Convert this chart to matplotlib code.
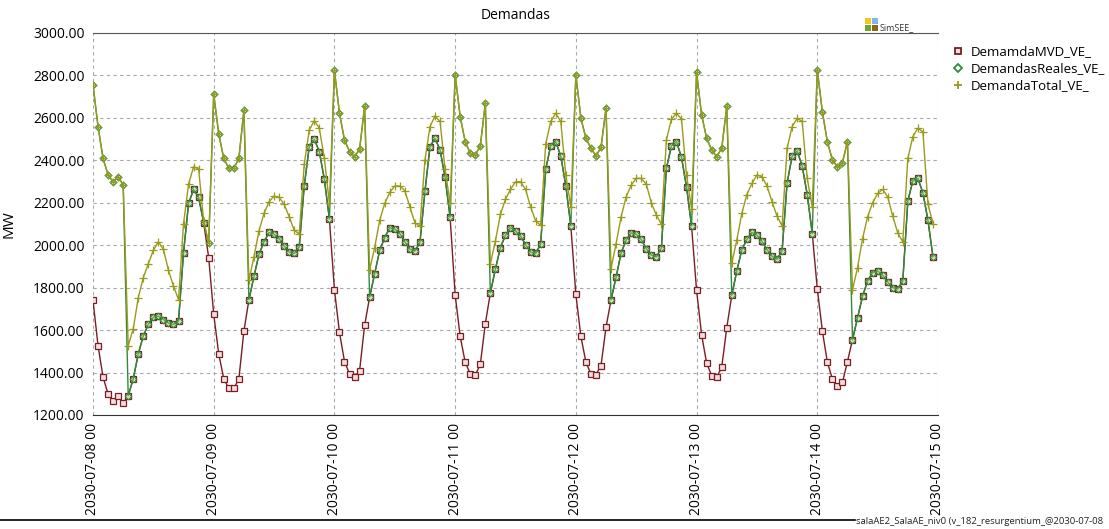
import numpy as np
import matplotlib
matplotlib.use("Agg")
import matplotlib.pyplot as plt
from matplotlib.patches import Rectangle
from matplotlib.lines import Line2D

plt.rcParams['font.family'] = ['Open Sans', 'DejaVu Sans']

# hourly demand, 2030-07-08 00 .. 2030-07-14 23 (one row per day)
mvd = [
    1740, 1527, 1378, 1299, 1268, 1288, 1255, 1291, 1370, 1488, 1573, 1627, 1661, 1666, 1650, 1633, 1627, 1642, 1965, 2197, 2263, 2225, 2107, 1942,
    1674, 1488, 1370, 1326, 1326, 1370, 1595, 1743, 1853, 1957, 2016, 2060, 2052, 2031, 1997, 1968, 1961, 1992, 2280, 2465, 2499, 2441, 2310, 2124,
    1790, 1590, 1452, 1394, 1378, 1409, 1622, 1756, 1866, 1976, 2036, 2082, 2077, 2055, 2016, 1981, 1973, 2013, 2255, 2465, 2504, 2449, 2320, 2131,
    1767, 1570, 1449, 1394, 1389, 1438, 1630, 1775, 1887, 1989, 2047, 2082, 2068, 2044, 2003, 1968, 1961, 2005, 2357, 2469, 2488, 2420, 2280, 2091,
    1768, 1570, 1449, 1394, 1390, 1433, 1614, 1743, 1850, 1964, 2024, 2058, 2052, 2027, 1984, 1953, 1945, 1987, 2362, 2468, 2488, 2414, 2276, 2091,
    1787, 1579, 1444, 1386, 1378, 1425, 1611, 1764, 1879, 1979, 2027, 2060, 2047, 2019, 1979, 1948, 1934, 1973, 2294, 2420, 2444, 2373, 2239, 2055,
    1795, 1598, 1449, 1370, 1338, 1354, 1452, 1554, 1658, 1760, 1831, 1871, 1879, 1858, 1827, 1800, 1794, 1831, 2208, 2304, 2315, 2247, 2118, 1945,
]

reales = [
    2756, 2559, 2409, 2331, 2299, 2323, 2284, 1291, 1370, 1488, 1573, 1627, 1661, 1666, 1650, 1633, 1627, 1642, 1965, 2197, 2263, 2225, 2107, 2010,
    2712, 2524, 2409, 2362, 2362, 2409, 2635, 1743, 1853, 1957, 2016, 2060, 2052, 2031, 1997, 1968, 1961, 1992, 2280, 2465, 2499, 2441, 2310, 2124,
    2824, 2622, 2496, 2441, 2417, 2452, 2654, 1756, 1866, 1976, 2036, 2082, 2077, 2055, 2016, 1981, 1973, 2013, 2255, 2465, 2504, 2449, 2320, 2131,
    2803, 2606, 2488, 2433, 2425, 2468, 2669, 1775, 1887, 1989, 2047, 2082, 2068, 2044, 2003, 1968, 1961, 2005, 2357, 2469, 2488, 2420, 2280, 2091,
    2803, 2598, 2504, 2457, 2420, 2461, 2646, 1743, 1850, 1964, 2024, 2058, 2052, 2027, 1984, 1953, 1945, 1987, 2362, 2468, 2488, 2414, 2276, 2091,
    2814, 2614, 2504, 2449, 2417, 2457, 2654, 1764, 1879, 1979, 2027, 2060, 2047, 2019, 1979, 1948, 1934, 1973, 2294, 2420, 2444, 2373, 2239, 2055,
    2827, 2630, 2488, 2402, 2370, 2389, 2488, 1554, 1658, 1760, 1831, 1871, 1879, 1858, 1827, 1800, 1794, 1831, 2208, 2304, 2315, 2247, 2118, 1945,
]

total = [
    2756, 2559, 2409, 2331, 2299, 2323, 2284, 1527, 1606, 1753, 1847, 1913, 1976, 2016, 1981, 1882, 1808, 1743, 2102, 2288, 2370, 2359, 2115, 2010,
    2712, 2524, 2409, 2362, 2362, 2409, 2635, 1835, 1945, 2068, 2150, 2205, 2231, 2225, 2194, 2134, 2071, 2052, 2383, 2543, 2587, 2551, 2409, 2197,
    2824, 2622, 2496, 2441, 2417, 2452, 2654, 1885, 1989, 2118, 2197, 2249, 2279, 2279, 2257, 2181, 2105, 2090, 2402, 2559, 2609, 2583, 2357, 2197,
    2803, 2606, 2488, 2433, 2425, 2468, 2669, 1913, 2019, 2146, 2216, 2263, 2299, 2299, 2263, 2181, 2115, 2094, 2476, 2583, 2622, 2583, 2331, 2181,
    2803, 2598, 2504, 2457, 2420, 2461, 2646, 1890, 2008, 2134, 2228, 2283, 2315, 2315, 2288, 2200, 2142, 2099, 2496, 2594, 2622, 2594, 2331, 2173,
    2814, 2614, 2504, 2449, 2417, 2457, 2654, 1916, 2024, 2150, 2239, 2291, 2331, 2323, 2279, 2205, 2137, 2091, 2457, 2559, 2598, 2583, 2315, 2181,
    2827, 2630, 2488, 2402, 2370, 2389, 2488, 1790, 1894, 2031, 2134, 2200, 2244, 2263, 2228, 2137, 2058, 2016, 2409, 2512, 2551, 2535, 2194, 2102,
]

day_labels = ['2030-07-08 00', '2030-07-09 00', '2030-07-10 00', '2030-07-11 00',
              '2030-07-12 00', '2030-07-13 00', '2030-07-14 00', '2030-07-15 00']
y_ticks = [1200, 1400, 1600, 1800, 2000, 2200, 2400, 2600, 2800, 3000]

hours = np.arange(len(mvd))

fig = plt.figure(figsize=(11.09, 5.29), dpi=100)
ax = fig.add_axes([93 / 1109, 1 - 415 / 529, 845 / 1109, 382 / 529])

c_mvd = '#7a1e24'
c_real = '#2e8b3a'
c_tot = '#9a9a1c'

ax.plot(hours, mvd, color=c_mvd, lw=1.0, marker='s', ms=4.0, mfc='#f4dede',
        mec=c_mvd, mew=0.9, label='DemamdaMVD_VE_')
ax.plot(hours, reales, color=c_real, lw=1.0, marker='D', ms=3.4, mfc=(0.75, 0.85, 0.4, 0.35),
        mec=c_real, mew=0.8, label='DemandasReales_VE_')
ax.plot(hours, total, color=c_tot, lw=1.0, marker='+', ms=6, mec=c_tot, mew=0.9,
        label='DemandaTotal_VE_')

ax.set_xlim(0, 168)
ax.set_ylim(1200, 3000)
ax.set_xticks(np.arange(0, 169, 24))
ax.set_xticklabels(day_labels, rotation=90, fontsize=10)
ax.set_yticks(y_ticks)
ax.set_yticklabels(['%.2f' % v for v in y_ticks], fontsize=10)
ax.tick_params(length=0, pad=6)
ax.grid(True, color='#a8a8a8', ls=(0, (3, 3)), lw=0.8)
ax.set_axisbelow(True)

for side in ['left', 'right']:
    ax.spines[side].set_visible(False)
ax.spines['top'].set_color('#555555')
ax.spines['bottom'].set_color('#333333')

ax.set_ylabel('MW', fontsize=11, labelpad=12)
ax.set_title('Demandas', fontsize=10, pad=10)

# legend outside on the right
handles = [
    Line2D([], [], ls='none', marker='s', ms=4.0, mfc='#f4dede', mec=c_mvd, mew=1.3),
    Line2D([], [], ls='none', marker='D', ms=3.6, mfc='white', mec=c_real, mew=1.3),
    Line2D([], [], ls='none', marker='+', ms=6, mec=c_tot, mew=1.3),
]
fig.legend(handles, ['DemamdaMVD_VE_', 'DemandasReales_VE_', 'DemandaTotal_VE_'],
           loc='upper left', bbox_to_anchor=(946 / 1109, 1 - 40 / 529), frameon=False,
           fontsize=9.5, handlelength=1.0, handletextpad=0.5, labelspacing=0.3,
           borderaxespad=0)

# SimSEE badge
for (bx, by, col) in [(865, 18, '#f5c518'), (872, 18, '#7fb8e8'),
                      (865, 25, '#6aa82e'), (872, 25, '#8a6a1a')]:
    fig.patches.append(Rectangle((bx / 1109, 1 - (by + 6) / 529), 6 / 1109, 6 / 529,
                                 transform=fig.transFigure, color=col, lw=0))
fig.text(880 / 1109, 1 - 30 / 529, 'SimSEE_', fontsize=6.5, color='#333333', va='baseline')

# footer
fig.add_artist(Line2D([0, 855 / 1109], [1 - 520 / 529, 1 - 520 / 529],
                      transform=fig.transFigure, color='black', lw=1.2))
fig.text(856 / 1109, 1 - 524 / 529, 'salaAE2_SalaAE_niv0 (v_182_resurgentium_@2030-07-08',
         fontsize=6.8, color='#222222', va='baseline', ha='left')

fig.savefig('out.png', dpi=100, facecolor='white')
